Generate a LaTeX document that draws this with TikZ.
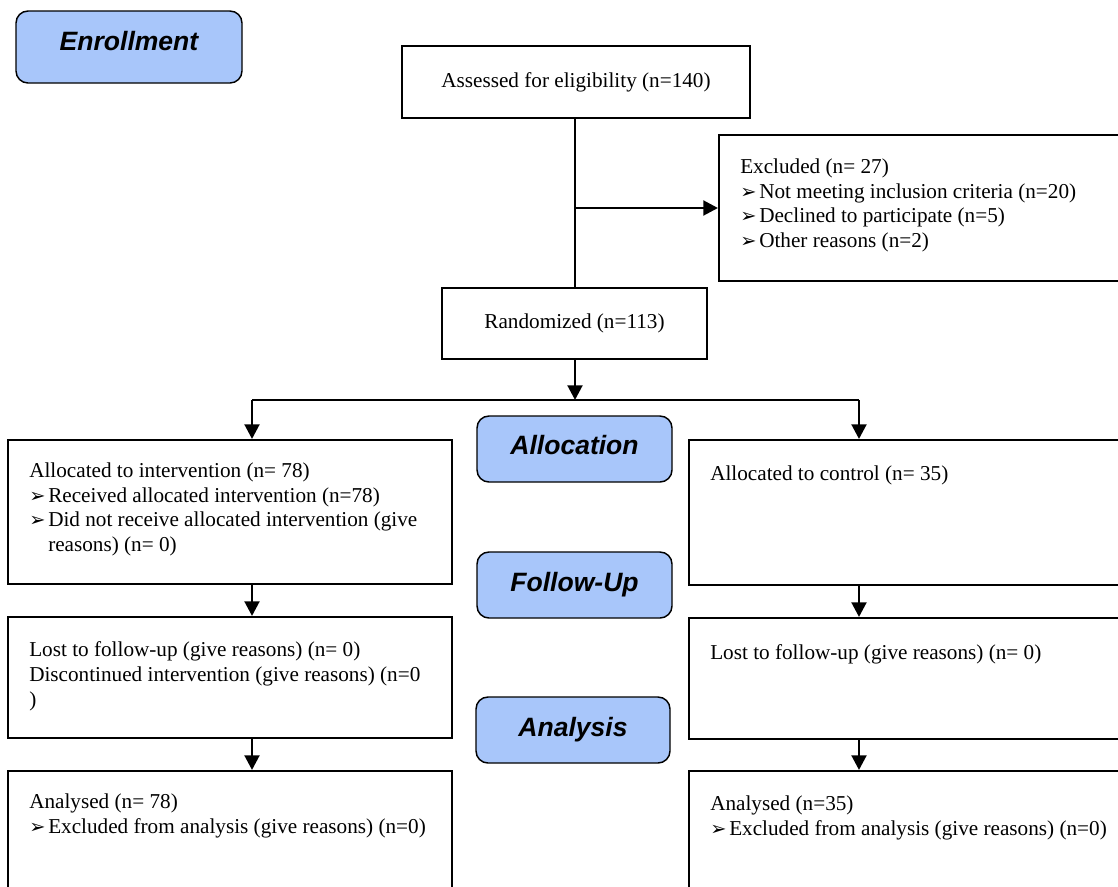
\documentclass[tikz,border=0pt]{standalone}
\usepackage{fontspec}
\setmainfont{Liberation Serif}
\newfontfamily\hsans{Liberation Sans}
\newfontfamily\dvs{DejaVu Sans}
\usetikzlibrary{arrows.meta}
\definecolor{stageblue}{RGB}{168,198,250}
\newcommand{\bl}{\makebox[14.25pt][l]{\dvs\fontsize{14.5}{14.5}\selectfont ➢}}
\begin{document}
\begin{tikzpicture}[x=0.75pt,y=-0.75pt,
  box/.style 2 args={draw, line width=1.5pt, inner sep=0pt,
    minimum width=#1*0.75pt, minimum height=#2*0.75pt,
    font=\fontsize{15.9}{18.4}\selectfont},
  stage/.style 2 args={draw, line width=1.1pt, fill=stageblue, rounded corners=9pt, inner sep=0pt,
    minimum width=#1*0.75pt, minimum height=#2*0.75pt,
    font=\hsans\bfseries\itshape\fontsize{19.9}{24}\selectfont},
  txt/.style={anchor=base west, inner sep=0pt, align=left, font=\fontsize{15.9}{18.4}\selectfont},
  conn/.style={line width=2.2pt},
  arr/.style={conn, -{Triangle[length=11pt,width=11pt]}}]
\fill[white] (0,0) rectangle (1118,886);
\clip (0,0) rectangle (1118,886);
% stage labels
\node[stage={226}{72}, text depth=9pt] (enr) at (129,47) {Enrollment};
\node[stage={195}{66}, text depth=6pt] (alc) at (574.5,449) {Allocation};
\node[stage={195}{66}] (fup) at (574.5,585) {Follow-Up};
\node[stage={194}{66}] (ana) at (573,730) {Analysis};
% boxes
\node[box={348}{72}] (assessed) at (576,82) {Assessed for eligibility (n=140)};
\node[box={411}{146}] (excl) at (924.5,208) {};
\node[box={265}{71}] (rand) at (574.5,323.5) {Randomized (n=113)};
\node[box={444}{144}] (lalloc) at (230,512) {};
\node[box={441}{145}] (ralloc) at (909.5,512.5) {};
\node[box={444}{121}] (lfol) at (230,677.5) {};
\node[box={441}{121}] (rfol) at (909.5,678.5) {};
\node[box={444}{129}] (lana) at (230,835.5) {};
\node[box={441}{129}] (rana) at (909.5,835.5) {};
% texts (anchor = baseline of the last line)
\node[txt] (texcl) at (740,247.5) {Excluded (n= 27)\\ \bl Not meeting inclusion criteria (n=20)\\ \bl Declined to participate (n=5)\\ \bl Other reasons (n=2)};
\node[txt] (tlalloc) at (29,551.5) {Allocated to intervention (n= 78)\\ \bl Received allocated intervention (n=78)\\ \bl Did not receive allocated intervention (give\\ \hspace*{14.25pt}reasons) (n= 0)};
\node[txt] (tralloc) at (710,480) {Allocated to control (n= 35)};
\node[txt] (tlfol) at (29,706) {Lost to follow-up (give reasons) (n= 0)\\ Discontinued intervention (give reasons) (n=0\\ )};
\node[txt] (trfol) at (710,659) {Lost to follow-up (give reasons) (n= 0)};
\node[txt] (tlana) at (29,833.5) {Analysed (n= 78)\\ \bl Excluded from analysis (give reasons) (n=0)};
\node[txt] (trana) at (710,835.5) {Analysed (n=35)\\ \bl Excluded from analysis (give reasons) (n=0)};
% connectors
\coordinate (sL) at (252,400);
\coordinate (sM) at (575,400);
\coordinate (sR) at (859,400);
\draw[conn] (sM |- assessed.south) -- (sM |- rand.north);
\draw[arr] (sM |- excl.west) -- (excl.west);
\draw[arr] (sM |- rand.south) -- (sM);
\draw[conn] (sL) -- (sR);
\draw[arr] (sL) -- (sL |- lalloc.north);
\draw[arr] (sR) -- (sR |- ralloc.north);
\draw[arr] (sL |- lalloc.south) -- (sL |- lfol.north);
\draw[arr] (sR |- ralloc.south) -- (sR |- rfol.north);
\draw[arr] (sL |- lfol.south) -- (sL |- lana.north);
\draw[arr] (sR |- rfol.south) -- (sR |- rana.north);
\end{tikzpicture}
\end{document}
